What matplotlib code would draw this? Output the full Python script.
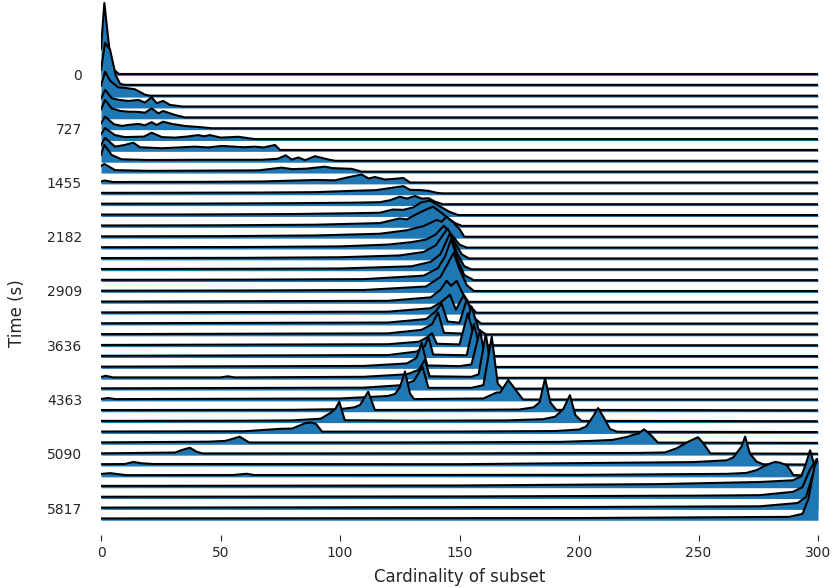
import matplotlib.pyplot as plt

# y tick labels (every 5th row)
time_labels = ['0', '727', '1455', '2182', '2909', '3636', '4363', '5090', '5817']
label_rows = [0, 5, 10, 15, 20, 25, 30, 35, 40]
x_ticks = [0, 50, 100, 150, 200, 250, 300]

# profile of each row: (cardinality, density height)
r00 = [(0, 25), (1.4, 71), (2.8, 40), (4, 15), (5.5, 4), (7.5, 0), (300, 0)]
r01 = [(0, 15), (1.7, 42), (3.8, 35), (5, 22), (6.1, 10), (8, 1), (10, 0), (300, 0)]
r02 = [(0, 10), (1.7, 24), (3.8, 15), (7.2, 8.4), (11.3, 7.4), (14.2, 6.4), (18.4, 1), (20.5, 0), (300, 0)]
r03 = [(0, 8), (1.7, 16.6), (4.5, 8.3), (7.7, 6.6), (11.4, 5.6), (15.6, 6.6), (18.4, 4), (21.2, 9.3),
       (23.3, 3.3), (26, 5.6), (28.9, 1.6), (34.3, 0), (300, 0)]
r04 = [(0, 8), (1.7, 17.4), (4.5, 9), (8, 6.5), (11.4, 5.7), (15.6, 5.5), (18.4, 4.7), (21.2, 9),
       (24, 4), (26, 6.4), (31, 2.4), (35, 0), (300, 0)]
r05 = [(0, 5), (1.7, 11.6), (5.4, 4), (8.8, 2.3), (11.4, 3.3), (15.6, 4.3), (18.4, 3), (21.2, 6),
       (23.3, 3.3), (26, 6.6), (29.7, 4.3), (35, 2.3), (42, 1), (46.3, 0), (300, 0)]
r06 = [(0, 5), (1.7, 11), (5.8, 4), (10, 2), (18, 2.5), (21.2, 6.4), (25.5, 2), (31, 1.5), (36, 2.5),
       (40.7, 4), (43, 2.8), (45.6, 4), (50, 1.5), (57.5, 2.3), (64.4, 0), (300, 0)]
r07 = [(0, 5), (1.7, 12), (5.9, 3.3), (10, 5), (13.5, 7.3), (16.3, 2.7), (25.5, 1.7), (39.3, 3.3),
       (45, 2.5), (50.5, 4), (60, 2.7), (64.4, 3.3), (68, 2.5), (72.8, 5), (74.9, 0), (300, 0)]
r08 = [(0, 6), (1.4, 15.8), (4.5, 5.8), (8.6, 1.5), (20, 0.8), (40, 1), (67, 1), (74, 2),
       (77.3, 5.5), (79.8, 1.3), (82.6, 3.3), (85.4, 0.6), (89.5, 4.6), (95.1, 1.3), (98, 0), (300, 0)]
r09 = [(0, 5.7), (1.4, 7.7), (5.9, 1.5), (20, 0.8), (40, 1), (66, 1.3), (75.6, 4), (80, 2.5),
       (86, 3), (93.7, 5), (97, 3.5), (104.9, 2.8), (109, 0), (300, 0)]
r10 = [(0, 1), (1.5, 2), (5, 0.5), (40, 0.6), (67, 1), (89.5, 2.5), (98, 2.2), (103, 5), (109, 8),
       (112, 4), (114.6, 5.5), (118.8, 3), (122, 3.5), (126.5, 4.5), (129.3, 0), (300, 0)]
r11 = [(0, 0.5), (30, 0.6), (67, 0.8), (90, 1.2), (105, 2.5), (115, 3.2), (121.6, 5.5), (126.5, 7.2),
       (129.3, 3.5), (133.5, 3.3), (137, 2.5), (141, 0.3), (143, 0), (300, 0)]
r12 = [(0, 0.5), (40, 0.6), (80, 1), (105, 1.5), (116.7, 2), (121, 4), (125, 7.5), (128, 5.6),
       (131.4, 8.2), (134.2, 5.6), (137, 6), (139.7, 2.6), (143, 0), (300, 0)]
r13 = [(0, 0.5), (40, 0.6), (80, 1), (105, 1.8), (116.7, 2.3), (122, 5.5), (126.5, 5.2), (130.7, 7.7),
       (134, 12.7), (137.7, 14.4), (142.5, 7.7), (146, 3), (149.5, 0), (300, 0)]
r14 = [(0, 0.4), (50, 0.6), (90, 1.2), (116.7, 2.8), (125, 7.5), (128, 6.5), (132, 11.7), (136.3, 16.7),
       (139, 19.2), (142.5, 13), (145, 8), (148, 3), (151, 0), (300, 0)]
r15 = [(0, 0.4), (50, 0.6), (90, 1.3), (116.7, 3), (128, 6.5), (134.9, 10.6), (140.5, 16.8), (142.5, 15),
       (144.6, 20), (147.5, 14), (150.2, 7), (152, 0), (300, 0)]
r16 = [(0, 0.4), (60, 0.6), (100, 1.2), (120, 3), (130, 5.5), (136, 8), (140, 13), (143.5, 22), (147, 12),
       (150, 3), (153, 0), (300, 0)]
r17 = [(0, 0.4), (60, 0.6), (100, 1.2), (125, 3), (135, 6.5), (140, 13), (145, 30), (148, 16), (151, 4),
       (154, 0), (300, 0)]
r18 = [(0, 0.3), (60, 0.5), (100, 0.8), (130, 3), (138, 7.5), (142, 15), (146, 36), (149, 16), (152, 3),
       (155, 0), (300, 0)]
r19 = [(0, 0.3), (60, 0.5), (110, 1), (135, 4.5), (141, 12), (144, 24), (146.5, 41), (149, 22), (152, 5),
       (156, 0), (300, 0)]
r20 = [(0, 0.3), (60, 0.5), (110, 1), (136, 4.5), (142, 14), (145, 27), (147.5, 38), (150, 22), (153, 6),
       (156, 0), (300, 0)]
r21 = [(0, 0.3), (120, 1), (138, 4.5), (142, 12), (144.6, 21), (146.5, 16), (148.8, 21), (151, 10),
       (153.7, 0), (300, 0)]
r22 = [(0, 0.3), (120, 1), (138, 4.5), (142, 10), (146, 18), (148.5, 3), (151.6, 17), (154, 8),
       (157, 0), (300, 0)]
r23 = [(0, 0.3), (120, 1), (136, 4.5), (140, 12), (142.5, 20), (145, 2), (150, 0.8), (153, 24), (156, 6),
       (159, 0), (300, 0)]
r24 = [(0, 0.3), (120, 1), (134, 4.5), (138.5, 10), (141, 22), (143.5, 1.5), (152, 0.8), (155, 28), (158, 5),
       (161, 0), (300, 0)]
r25 = [(0, 0.3), (120, 1), (133, 3.5), (136.5, 8), (138.5, 12), (140.5, 1.5), (150, 0.8), (153.5, 32),
       (156.5, 5), (159, 0), (300, 0)]
r26 = [(0, 0.3), (120, 1), (132, 4.5), (135.5, 10), (137, 19), (139, 1.5), (153, 0.8), (156, 32), (159, 4),
       (161, 0), (300, 0)]
r27 = [(0, 0.3), (110, 1), (128, 3.5), (132, 9), (134.2, 24), (136.5, 1.5), (150, 0.8), (155, 2.5),
       (158.6, 37), (161, 4), (163, 0), (300, 0)]
r28 = [(0, 0.8), (2, 2), (5, 0.4), (50, 0.4), (53, 1.5), (56, 0.4), (110, 1), (128, 3.5), (133, 8),
       (135.5, 18), (137.5, 1.5), (155, 1), (158, 3.5), (161, 44), (163.5, 4), (165, 0), (300, 0)]
r29 = [(0, 0.3), (110, 1), (126, 3.5), (131, 8), (134.5, 22), (137, 0.8), (155, 0.8), (160, 3.5),
       (163.5, 52), (166, 5), (168, 0), (300, 0)]
r30 = [(0, 0.5), (3, 1.5), (6, 0.4), (100, 1), (120, 3.5), (123, 5.5), (125, 12), (127.2, 28), (129.3, 6),
       (131, 0.4), (160, 1), (165.5, 7), (167, 7), (170.4, 19.5), (174, 8), (176.6, 0), (300, 0)]
r31 = [(0, 0.3), (80, 0.5), (100, 1.2), (106, 3), (108.4, 5.4), (111.8, 18.7), (114.6, 0.4), (150, 0.5),
       (175, 0.8), (181, 3), (183.5, 8), (185.8, 32), (188, 8), (190.5, 0.5), (300, 0)]
r32 = [(0, 0.3), (60, 0.5), (80, 0.8), (92, 2.5), (95.8, 8), (98, 12), (99.7, 19.5), (102, 1), (130, 0.5),
       (170, 0.8), (185, 2), (190, 4.5), (193.4, 12), (196.2, 26), (198.5, 6), (201, 0.3), (300, 0)]
r33 = [(0, 0.5), (60, 0.8), (75, 3.2), (80, 3.5), (85.4, 8.8), (88, 9.5), (90, 8), (92.5, 0.4), (150, 0.5),
       (190, 1), (200, 2.5), (203, 5.5), (206, 16), (208, 24), (210.5, 14), (213, 3), (216, 0.3), (300, 0)]
r34 = [(0, 0.5), (45, 1.2), (52, 2), (55, 4), (58, 6.2), (62, 0.4), (120, 0.4), (192, 1), (205, 2),
       (214, 3), (220, 5.9), (222.6, 8), (225, 9.5), (227.2, 13.6), (230, 8), (233, 0.3), (300, 0)]
r35 = [(0, 0.4), (31, 1.2), (33.8, 3.7), (37.2, 6), (40, 2), (42.5, 0.3), (150, 0.4), (225, 0.8),
       (236, 1.3), (240.9, 5.5), (245.7, 12), (249.8, 16.5), (252, 10.5), (255, 0.3), (300, 0)]
r36 = [(0, 0.4), (10, 0.6), (13.5, 2.6), (17, 1.3), (21.8, 0.6), (150, 0.4), (248, 2.5), (261.8, 4.3),
       (264.6, 7.3), (268, 18), (269.5, 28), (271.5, 11), (274.3, 3), (277, 0.3), (300, 0)]
r37 = [(0, 1.5), (3.8, 2.3), (10.5, 0.3), (55, 0.4), (61, 1.7), (64, 0.4), (200, 0.6), (262, 1.6),
       (270, 2.5), (274.3, 5.3), (277, 8.7), (280, 12), (282, 13.5), (284, 12.8), (287, 10.2), (289.7, 0.3),
       (300, 0)]
r38 = [(0, 0.4), (150, 0.8), (234, 2.2), (275.7, 4.3), (289.5, 6), (293, 10), (295, 23), (296.7, 36),
       (298, 25), (299.4, 18), (300, 17)]
r39 = [(0, 0.4), (150, 0.7), (250, 1.5), (275.7, 2), (289.5, 5.3), (293.5, 10), (296.5, 27), (299.4, 38),
       (300, 37)]
r40 = [(0, 0.4), (200, 1), (275.7, 1.7), (291.5, 5), (295, 11), (297.5, 31), (299.4, 45), (300, 46)]
r41 = [(0, 0.4), (200, 0.8), (288, 2), (293.5, 5), (296, 20), (298.5, 52), (300, 60)]

rows = [r00, r01, r02, r03, r04, r05, r06, r07, r08, r09, r10, r11, r12, r13, r14, r15, r16, r17,
        r18, r19, r20, r21, r22, r23, r24, r25, r26, r27, r28, r29, r30, r31, r32, r33, r34, r35,
        r36, r37, r38, r39, r40, r41]

ROW_GAP = 10.85
fill_color = '#1f77b4'
text_color = '0.15'

fig = plt.figure(figsize=(8.33, 5.88), dpi=100)
ax = fig.add_axes([101 / 833, 53 / 588, 717 / 833, 535 / 588])

# later rows drawn on top of earlier ones
for i, r in enumerate(rows):
    xs = [p[0] for p in r]
    base = -i * ROW_GAP
    ys = [base + p[1] for p in r]
    ax.fill_between(xs, base - 1.4, ys, color=fill_color, lw=0, zorder=2 * i + 2)
    ax.plot(xs, ys, color='black', lw=1.5, zorder=2 * i + 3)

ax.set_xlim(0, 300)
ax.set_ylim(-461, 74)
for s in ax.spines.values():
    s.set_visible(False)

ax.set_yticks([-i * ROW_GAP for i in label_rows])
ax.set_yticklabels(time_labels)
ax.tick_params(axis='y', length=0, pad=13.7, labelsize=10, labelcolor=text_color)
ax.set_xticks(x_ticks)
ax.tick_params(axis='x', length=4.5, width=0.8, color=text_color, labelsize=10, labelcolor=text_color)

ax.set_xlabel('Cardinality of subset', fontsize=12, color=text_color)
ax.xaxis.set_label_coords(0.5, -0.062)
ax.set_ylabel('Time (s)', fontsize=12, color=text_color)
ax.yaxis.set_label_coords(-0.1046, 0.415)

fig.savefig('out.png', dpi=100)
